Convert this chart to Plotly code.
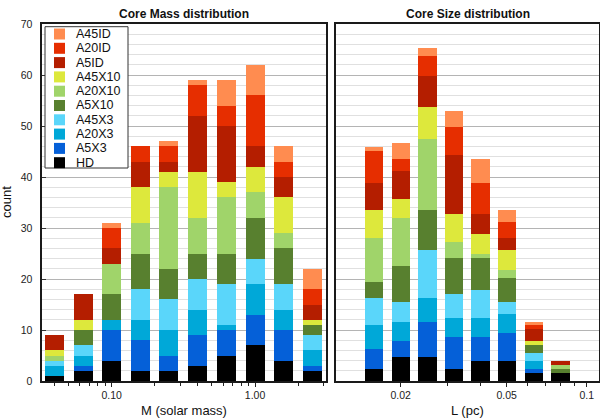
import plotly.graph_objects as go

# series, bottom of the stack first
series_names = ["HD", "A5X3", "A20X3", "A45X3", "A5X10", "A20X10", "A45X10", "A5ID", "A20ID", "A45ID"]
series_colors = ["#000000", "#0560d8", "#00a8d8", "#5ad6fa", "#58802f",
                 "#a0d46a", "#dde83c", "#b41e00", "#e62e00", "#ff8c50"]

# core mass bins (solar mass, bin centres)
mass_bins = [0.0398, 0.0631, 0.1, 0.158, 0.251, 0.398, 0.631, 1.0, 1.58, 2.51]
mass_HD = [1, 2, 4, 2, 2, 3, 5, 7, 4, 2]
mass_A5X3 = [0, 1, 6, 6, 3, 6, 5, 6, 6, 1]
mass_A20X3 = [2, 2, 2, 4, 5, 5, 1, 6, 4, 3]
mass_A45X3 = [1, 2, 0, 6, 6, 6, 8, 5, 5, 3]
mass_A5X10 = [0, 3, 5, 7, 6, 5, 6, 8, 7, 2]
mass_A20X10 = [1, 0, 6, 6, 16, 7, 11, 5, 3, 0]
mass_A45X10 = [1, 2, 0, 7, 3, 9, 3, 5, 7, 1]
mass_A5ID = [3, 5, 3, 5, 2, 11, 11, 4, 4, 3]
mass_A20ID = [0, 0, 4, 3, 3, 6, 4, 10, 3, 3]
mass_A45ID = [0, 0, 1, 0, 1, 1, 5, 6, 3, 4]

# core size bins (pc, bin centres)
size_bins = [0.0159, 0.02, 0.0252, 0.0317, 0.0399, 0.0502, 0.0632, 0.0796]
size_HD = [3, 6, 6, 3, 5, 5, 2, 2]
size_A5X3 = [5, 4, 9, 8, 6, 7, 1, 0]
size_A20X3 = [6, 5, 6, 5, 5, 5, 2, 0]
size_A45X3 = [7, 5, 12, 6, 7, 3, 2, 0]
size_A5X10 = [4, 9, 10, 9, 8, 6, 2, 1]
size_A20X10 = [11, 12, 18, 4, 1, 2, 0, 1]
size_A45X10 = [7, 5, 8, 7, 5, 5, 1, 0]
size_A5ID = [7, 7, 8, 15, 5, 3, 3, 1]
size_A20ID = [8, 3, 5, 7, 8, 4, 1, 0]
size_A45ID = [1, 4, 2, 4, 6, 3, 1, 0]

mass_ticks = [0.1, 1.0]
mass_ticktext = ["0.10", "1.00"]
mass_minor = [0.04, 0.05, 0.06, 0.07, 0.08, 0.09, 0.2, 0.3, 0.4, 0.5, 0.6, 0.7, 0.8, 0.9, 2, 3]
size_ticks = [0.02, 0.05, 0.1]
size_ticktext = ["0.02", "0.05", "0.1"]
size_minor = [0.03, 0.04, 0.06, 0.07, 0.08, 0.09]

mass_series = [mass_HD, mass_A5X3, mass_A20X3, mass_A45X3, mass_A5X10,
               mass_A20X10, mass_A45X10, mass_A5ID, mass_A20ID, mass_A45ID]
size_series = [size_HD, size_A5X3, size_A20X3, size_A45X3, size_A5X10,
               size_A20X10, size_A45X10, size_A5ID, size_A20ID, size_A45ID]

FONT = "Liberation Sans, Arial, Helvetica, sans-serif"
W, H = 600, 419


def px(x):
    return x / W


def py(y):
    return 1 - y / H


def log_bar_geometry(centers, half_decades):
    # equal-looking bars on a log axis: edges at c*10^-h and c*10^+h
    offsets = [c * 10 ** -half_decades - c for c in centers]
    widths = [c * (10 ** half_decades - 10 ** -half_decades) for c in centers]
    return offsets, widths


fig = go.Figure()

m_off, m_w = log_bar_geometry(mass_bins, 0.0663)
s_off, s_w = log_bar_geometry(size_bins, 0.0344)

for name, color, vals in zip(series_names, series_colors, mass_series):
    fig.add_trace(go.Bar(x=mass_bins, y=vals, offset=m_off, width=m_w, name=name,
                         marker={"color": color, "line": {"width": 0}},
                         xaxis="x", yaxis="y", showlegend=False))
for name, color, vals in zip(series_names, series_colors, size_series):
    fig.add_trace(go.Bar(x=size_bins, y=vals, offset=s_off, width=s_w, name=name,
                         marker={"color": color, "line": {"width": 0}},
                         xaxis="x2", yaxis="y2", showlegend=False))

frame = dict(showline=True, mirror=True, linecolor="#1a1a1a", linewidth=1.5)
tickfont = {"family": FONT, "size": 10.5, "color": "#222"}

fig.update_layout(
    width=W,
    height=H,
    barmode="stack",
    margin={"l": 0, "r": 0, "t": 0, "b": 0},
    paper_bgcolor="white",
    plot_bgcolor="white",
    font={"family": FONT, "color": "#111"},
    showlegend=False,
    xaxis=dict(
        type="log", domain=[px(42.3), px(326)], range=[-1.484, 0.495],
        tickmode="array", tickvals=mass_ticks, ticktext=mass_ticktext,
        ticks="outside", ticklen=4, tickcolor="#222", tickfont=tickfont,
        minor=dict(tickmode="array", tickvals=mass_minor, ticks="outside", ticklen=3, tickcolor="#222", showgrid=False),
        showgrid=False, zeroline=False, anchor="y", automargin=False, **frame,
    ),
    yaxis=dict(
        domain=[py(381), py(24)], range=[0, 70], dtick=10, tick0=0,
        ticks="inside", ticklen=4, tickcolor="#333", tickfont=tickfont, ticklabelstandoff=6,
        showgrid=True, gridcolor="#b4b4b4", gridwidth=1,
        minor=dict(dtick=2, tick0=0, showgrid=True, gridcolor="#e0e0e0", gridwidth=1),
        zeroline=False, anchor="x", automargin=False, **frame,
    ),
    xaxis2=dict(
        type="log", domain=[px(335.7), px(599.3)], range=[-1.943, -0.953],
        tickmode="array", tickvals=size_ticks, ticktext=size_ticktext,
        ticks="outside", ticklen=4, tickcolor="#222", tickfont=tickfont,
        minor=dict(tickmode="array", tickvals=size_minor, ticks="outside", ticklen=3, tickcolor="#222", showgrid=False),
        showgrid=False, zeroline=False, anchor="y2", automargin=False, **frame,
    ),
    yaxis2=dict(
        domain=[py(381), py(24)], range=[0, 90], dtick=90 / 7, tick0=0,
        showticklabels=False, ticks="",
        showgrid=True, gridcolor="#b4b4b4", gridwidth=1,
        minor=dict(dtick=90 / 35, tick0=0, showgrid=True, gridcolor="#e0e0e0", gridwidth=1),
        zeroline=False, anchor="x2", automargin=False, **frame,
    ),
)

annotations = [
    dict(text="<b>Core Mass distribution</b>", x=px(184), y=py(14), font={"size": 12}),
    dict(text="<b>Core Size distribution</b>", x=px(467.5), y=py(14), font={"size": 12}),
    dict(text="M (solar mass)", x=px(184), y=py(410), font={"size": 13}),
    dict(text="L (pc)", x=px(467.5), y=py(410), font={"size": 13}),
    dict(text="count", x=px(6.5), y=py(202.5), textangle=-90, font={"size": 13}),
]
for a in annotations:
    a.update(xref="paper", yref="paper", showarrow=False, xanchor="center", yanchor="middle")
    fig.add_annotation(**a)

# legend box drawn in the upper-left corner of the mass panel
shapes = [dict(type="rect", xref="paper", yref="paper", x0=px(45), x1=px(128), y0=py(168), y1=py(26.7),
               fillcolor="white", line={"color": "#333", "width": 1}, layer="above")]
for i, (name, color) in enumerate(zip(reversed(series_names), reversed(series_colors))):
    yc = 34 + 14.3 * i
    shapes.append(dict(type="rect", xref="paper", yref="paper", x0=px(54), x1=px(65),
                       y0=py(yc + 5.5), y1=py(yc - 5.5), fillcolor=color, line={"width": 0}, layer="above"))
    fig.add_annotation(text=name, x=px(74), y=py(yc), xref="paper", yref="paper", showarrow=False,
                       xanchor="left", yanchor="middle", font={"size": 12.5, "color": "#111"})
fig.update_layout(shapes=shapes)

# the page's default body margin would shift the fixed-size figure
fig.write_html("out.html", config={"displayModeBar": False},
               post_script="document.body.style.margin = '0';")
